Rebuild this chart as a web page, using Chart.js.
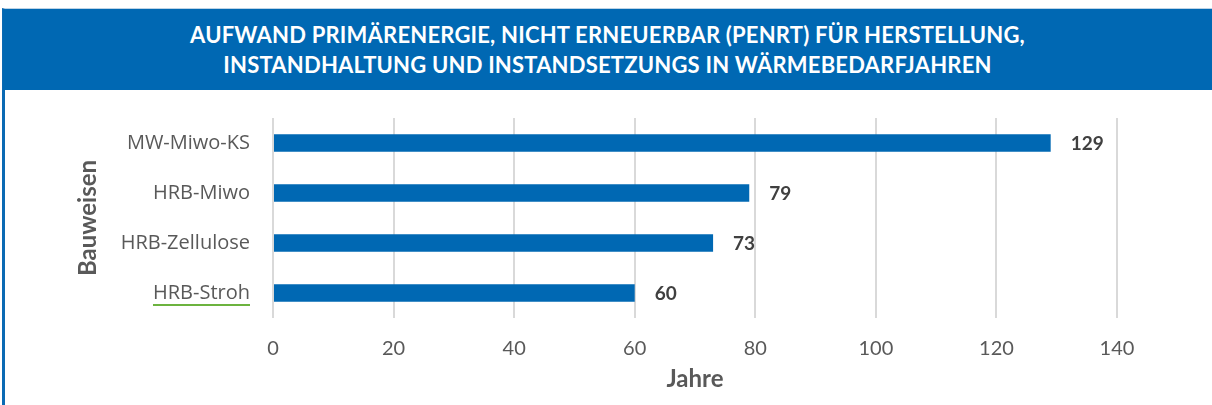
<!DOCTYPE html>
<html>
<head>
<meta charset="utf-8">
<script src="https://cdn.jsdelivr.net/npm/chart.js@4/dist/chart.umd.min.js"></script>
<style>
  html, body { margin: 0; padding: 0; background: #fff; }
  body { width: 1212px; height: 405px; position: relative; overflow: hidden; }
  #frame {
    position: absolute; left: 2px; top: 8px; width: 1207px; height: 400px;
    border-top: 1px solid #bcd3e6; border-left: 3px solid #0a6ab4; border-right: 1px solid #c9d7e2;
  }
  #banner {
    position: absolute; left: 3px; top: 9px; width: 1209px; height: 81px;
    background: #0068b3; color: #fff; text-align: center;
    font-family: Lato, sans-serif; font-weight: 700; font-size: 22px; line-height: 30px;
    letter-spacing: 0.2px;
    display: flex; flex-direction: column; justify-content: center;
  }
  #wrap { position: absolute; left: 0; top: 0; width: 1212px; height: 405px; }
</style>
</head>
<body>
<div id="frame"></div>
<div id="banner">
  <div>AUFWAND PRIMÄRENERGIE, NICHT ERNEUERBAR (PENRT) FÜR HERSTELLUNG,</div>
  <div>INSTANDHALTUNG UND INSTANDSETZUNGS IN WÄRMEBEDARFJAHREN</div>
</div>
<div id="wrap"><canvas id="chart" width="1212" height="405"></canvas></div>
<script>
const categories = ["MW-Miwo-KS", "HRB-Miwo", "HRB-Zellulose", "HRB-Stroh"];
const jahre = [129, 79, 73, 60];
const xTicks = [0, 20, 40, 60, 80, 100, 120, 140];

const blue = "#0068b3";
const grey = "#595959";
const catFont = "20px 'Open Sans', sans-serif";

// draws the bold numbers right of the bars and the green underline
const valueLabels = {
    id: "valueLabels",
    afterDatasetsDraw(chart) {
        const ctx = chart.ctx;
        const meta = chart.getDatasetMeta(0);
        ctx.save();
        ctx.font = "bold 19px Lato, sans-serif";
        ctx.fillStyle = "#404040";
        ctx.textAlign = "left";
        ctx.textBaseline = "middle";
        meta.data.forEach((bar, i) => {
            ctx.fillText(String(jahre[i]), bar.x + 20, bar.y + 1);
        });
        // spell check underline on last category
        const y = chart.scales.y;
        ctx.font = catFont;
        const w = ctx.measureText(categories[3]).width;
        const right = y.right - 23;
        const py = y.getPixelForTick(3) + 12;
        ctx.strokeStyle = "#6cb33f";
        ctx.lineWidth = 2;
        ctx.beginPath();
        ctx.moveTo(right - w, py);
        ctx.lineTo(right, py);
        ctx.stroke();
        ctx.restore();
    }
};

new Chart(document.getElementById("chart"), {
    type: "bar",
    data: {
        labels: categories,
        datasets: [{
            data: jahre,
            backgroundColor: blue,
            barPercentage: 0.35,
            categoryPercentage: 1
        }]
    },
    options: {
        indexAxis: "y",
        responsive: false,
        animation: false,
        layout: { padding: { top: 118, left: 72, right: 95, bottom: 0 } },
        plugins: { legend: { display: false }, tooltip: { enabled: false } },
        scales: {
            x: {
                min: 0,
                max: 140,
                afterBuildTicks: (s) => { s.ticks = xTicks.map(v => ({ value: v })); },
                afterFit: (s) => { s.height = 87; },
                grid: { color: "#d9d9d9", lineWidth: 2, drawTicks: false },
                border: { display: false },
                ticks: { color: grey, font: { family: "Lato", size: 20 }, padding: 19 },
                title: {
                    display: true, text: "Jahre", color: grey,
                    font: { family: "Lato", size: 24, weight: "bold" },
                    padding: { top: 0, bottom: 11 }
                }
            },
            y: {
                afterFit: (s) => { s.width = 201; },
                grid: { display: false, drawTicks: false },
                border: { display: false },
                ticks: { color: grey, font: { family: "Open Sans", size: 20 }, padding: 23 },
                title: {
                    display: true, text: "Bauweisen", color: grey,
                    font: { family: "Lato", size: 24, weight: "bold" },
                    padding: 2
                }
            }
        }
    },
    plugins: [valueLabels]
});
</script>
</body>
</html>
